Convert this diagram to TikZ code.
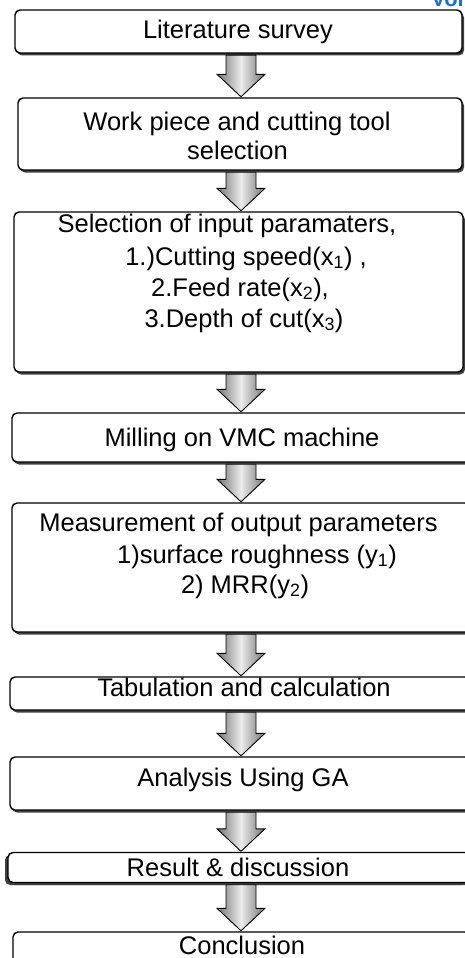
\documentclass[tikz,border=0pt]{standalone}
\usepackage{fontspec}
\setmainfont{Liberation Sans}
\usetikzlibrary{calc,shadows}
\definecolor{headerblue}{HTML}{1F6FC5}
\begin{document}
\begin{tikzpicture}[x=1pt,y=-1pt,
  box/.style={draw=black, line width=1.4pt, fill=white, rounded corners=5pt,
    inner sep=0pt,
    drop shadow={shadow xshift=2pt, shadow yshift=-2.5pt, opacity=1, fill=black!75}},
  leftbox/.style={box,
    drop shadow={shadow xshift=-3pt, shadow yshift=-2.5pt, opacity=1, fill=black!75}},
  txt/.style={font=\fontsize{25.5}{30}\selectfont, anchor=base, inner sep=0pt},
  flowarrow/.style={draw=black, line width=0.9pt, line join=miter,
    left color=black!55, right color=black!55, middle color=black!8},
]
\useasboundingbox (0,0) rectangle (465,958);

% header fragment at the top edge
\node[font=\bfseries\fontsize{22}{24}\selectfont, text=headerblue, anchor=base west, inner sep=0pt] (hdr) at (431,7) {Vol};

% boxes (the lower ones run past the right edge)
\node[box, minimum width=447pt, minimum height=43pt]  (b1) at (238.5,31.5) {};
\node[box, minimum width=444pt, minimum height=72pt]  (b2) at (240,134) {};
\node[box, minimum width=449pt, minimum height=160pt] (b3) at (238.5,292) {};
\node[box, minimum width=458pt, minimum height=49pt]  (b4) at (241,437.5) {};
\node[box, minimum width=458pt, minimum height=129pt] (b5) at (241,567.5) {};
\node[box, minimum width=460pt, minimum height=33pt]  (b6) at (240,693.5) {};
\node[box, minimum width=460pt, minimum height=53pt]  (b7) at (240,783.5) {};
\node[leftbox, minimum width=462pt, minimum height=30pt] (b8) at (239,867.5) {};
\node[box, minimum width=457pt, minimum height=50pt]  (b9) at (241.5,957) {};

% block arrows between consecutive boxes
\foreach \a/\b in {b1/b2,b2/b3,b3/b4,b4/b5,b5/b6,b6/b7,b7/b8,b8/b9}{
  \path[flowarrow] let \p1=(\a.south), \p2=(\b.north) in
    (226pt,\y1-1.5pt) -- (256pt,\y1-1.5pt) -- (256pt,\y2+23pt) -- (265pt,\y2+23pt)
    -- (241pt,\y2+0.5pt) -- (217pt,\y2+23pt) -- (226pt,\y2+23pt) -- cycle;
}

% texts
\node[txt] (t1)  at (238,39)    {Literature survey};
\node[txt] (t2a) at (237,130)   {Work piece and cutting tool};
\node[txt] (t2b) at (237.5,159) {selection};
\node[txt] (t3a) at (227,232.5) {Selection of input paramaters,};
\node[txt] (t3b) at (246,265)   {1.)Cutting speed(x\textsubscript{1}) ,};
\node[txt] (t3c) at (240,296)   {2.Feed rate(x\textsubscript{2}),};
\node[txt] (t3d) at (244,327)   {3.Depth of cut(x\textsubscript{3})};
\node[txt] (t4)  at (242,446)   {Milling on VMC machine};
\node[txt] (t5a) at (238.5,531.5) {Measurement of output parameters};
\node[txt] (t5b) at (257,563)   {1)surface roughness (y\textsubscript{1})};
\node[txt] (t5c) at (245,593)   {2) MRR(y\textsubscript{2})};
\node[txt] (t6)  at (244,696)   {Tabulation and calculation};
\node[txt] (t7)  at (243,786.5) {Analysis Using GA};
\node[txt] (t8)  at (238,876.5) {Result \& discussion};
\node[txt] (t9)  at (242,954)   {Conclusion};
\end{tikzpicture}
\end{document}
